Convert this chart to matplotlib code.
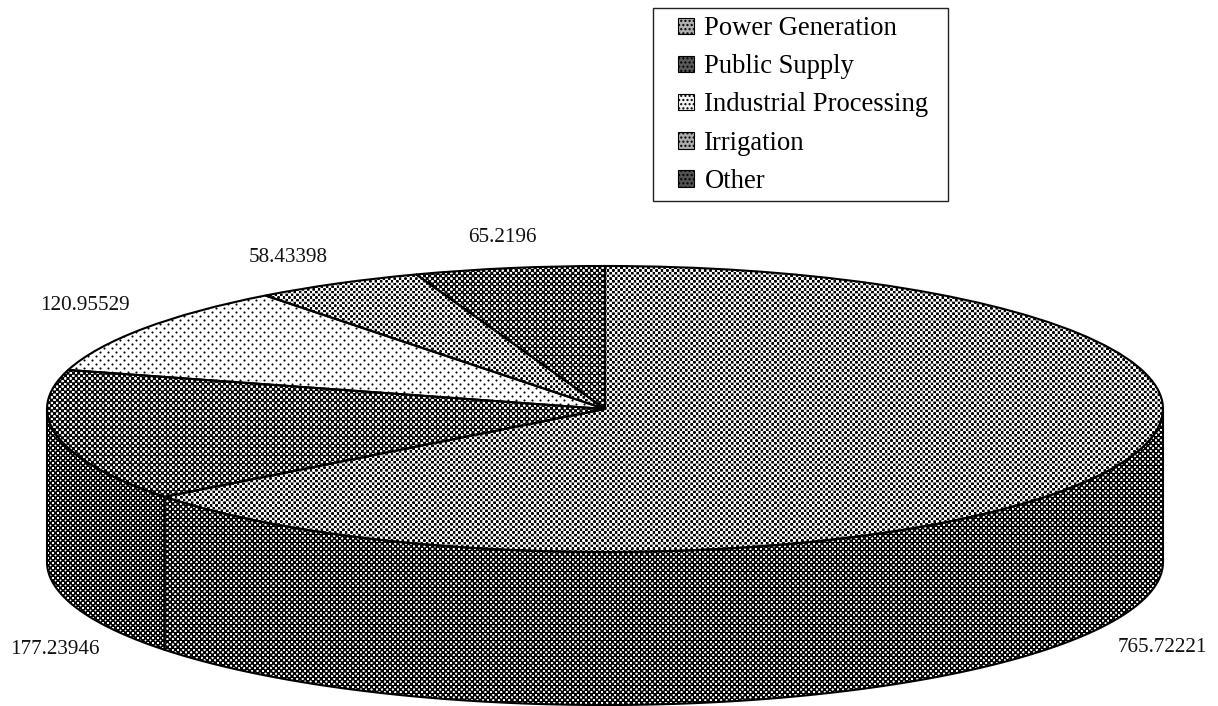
import numpy as np
import matplotlib
matplotlib.use("Agg")
import matplotlib.pyplot as plt
from matplotlib.patches import Patch, Rectangle, Polygon
from matplotlib.legend_handler import HandlerPatch

categories = ["Power Generation", "Public Supply", "Industrial Processing", "Irrigation", "Other"]
values = [765.72221, 177.23946, 120.95529, 58.43398, 65.2196]
value_labels = ["765.72221", "177.23946", "120.95529", "58.43398", "65.2196"]

W, H = 1218, 706
DPI = 100
CX, CY, RX, RY = 605, 409, 558, 143
DEPTH = 153 / RY          # wall height in units of the vertical radius
plt.rcParams["font.family"] = ["Liberation Serif", "DejaVu Serif"]


def screen(pitch, threshold, dark_ground):
    """Print-style dot screen covering the whole page."""
    y, x = np.mgrid[0:H, 0:W]
    u, v = (x + y) / pitch, (x - y) / pitch
    f = (np.cos(2 * np.pi * u) + np.cos(2 * np.pi * v)) / 2
    if dark_ground:
        return np.clip((f - threshold) * 2 + 0.5, 0, 1)
    return 1 - np.clip((-threshold - f) * 2 + 0.5, 0, 1)


TOP_SCREENS = [
    screen(5.4, 0.05, False),   # Power Generation
    screen(5.4, 0.18, True),    # Public Supply
    screen(8.0, 0.70, False),   # Industrial Processing
    screen(5.4, 0.10, False),   # Irrigation
    screen(5.4, 0.18, True),    # Other
]
WALL_SCREENS = [screen(5.3, 0.30, True), screen(5.0, 0.36, True)]
SWATCH_FACE = ["#b0b0b0", "#5a5a5a", "#f4f4f4", "#acacac", "#525252"]

fig = plt.figure(figsize=(W / DPI, H / DPI), dpi=DPI, facecolor="white")

# Page-wide pixel axes that hold the dot screens and the value labels.
page = fig.add_axes([0, 0, 1, 1], zorder=1)
page.set_xlim(0, W)
page.set_ylim(H, 0)
page.axis("off")

# Pie axes: one data unit is one radius, stretched into the ellipse.
bottom_units = DEPTH + 1.05
ax_top, ax_bot = CY - RY, CY + RY * bottom_units
ax = fig.add_axes([(CX - RX) / W, 1 - ax_bot / H, 2 * RX / W, (ax_bot - ax_top) / H], zorder=2)
wedges, _ = ax.pie(values, startangle=90, counterclock=False, radius=1,
                   wedgeprops=dict(facecolor="none", edgecolor="black", linewidth=1.5))
ax.set_aspect("auto")
ax.set_xlim(-1, 1)
ax.set_ylim(-bottom_units, 1)
ax.axis("off")
ax.patch.set_visible(False)
for w in wedges:
    w.set_clip_on(False)


def fill_screen(pattern, path, transform):
    im = page.imshow(pattern, cmap="gray", vmin=0, vmax=1, extent=(0, W, H, 0),
                     interpolation="nearest", aspect="auto", zorder=1)
    im.set_clip_path(path, transform)


for w, pattern in zip(wedges, TOP_SCREENS):
    fill_screen(pattern, w.get_path(), w.get_transform())

# Outer wall: the visible lower half of the rim, dropped by DEPTH.
ends = 90 - np.cumsum(values) / np.sum(values) * 360
wall_spans = [(0.0, ends[0]), (ends[0], -180.0)]
for (a0, a1), pattern in zip(wall_spans, WALL_SCREENS):
    t = np.radians(np.linspace(a0, a1, 200))
    rim = np.column_stack([np.cos(t), np.sin(t)])
    low = rim[::-1] - [0, DEPTH]
    wall = Polygon(np.vstack([rim, low]), closed=True, facecolor="none",
                   edgecolor="black", linewidth=1.5, clip_on=False,
                   joinstyle="round", zorder=3)
    ax.add_patch(wall)
    fill_screen(pattern, wall.get_path(), wall.get_transform())

page.set_xlim(0, W)
page.set_ylim(H, 0)

# Value labels outside the rim.
label_xy = [(1162, 647), (55, 649), (85, 306), (288, 257), (502, 238)]
for text, (x, y) in zip(value_labels, label_xy):
    page.text(x, y, text, fontsize=15.2, ha="center", va="center", color="#111111")

# Legend box, wider than its entries on the right-hand side.
page.add_patch(Rectangle((653, 8), 295, 193, facecolor="white", edgecolor="#222222",
                         linewidth=1.0, zorder=4))


def swatch(legend, orig_handle, xdescent, ydescent, width, height, fontsize):
    side = 12
    return Rectangle((width - side, (height - side) / 2), side, side)


handles = [Patch(facecolor=c, edgecolor="black", hatch="....", linewidth=0.8) for c in SWATCH_FACE]
legend = page.legend(handles, categories, loc="upper left",
                     bbox_to_anchor=(653 / W, 1 - 11 / H), bbox_transform=fig.transFigure,
                     borderaxespad=0, fontsize=19.2, frameon=False,
                     borderpad=0.2, labelspacing=0.49, handlelength=1.35, handleheight=0.7,
                     handletextpad=0.38,
                     handler_map={Patch: HandlerPatch(patch_func=swatch)})
legend.set_zorder(5)

fig.savefig("out.png", dpi=DPI, facecolor="white")
